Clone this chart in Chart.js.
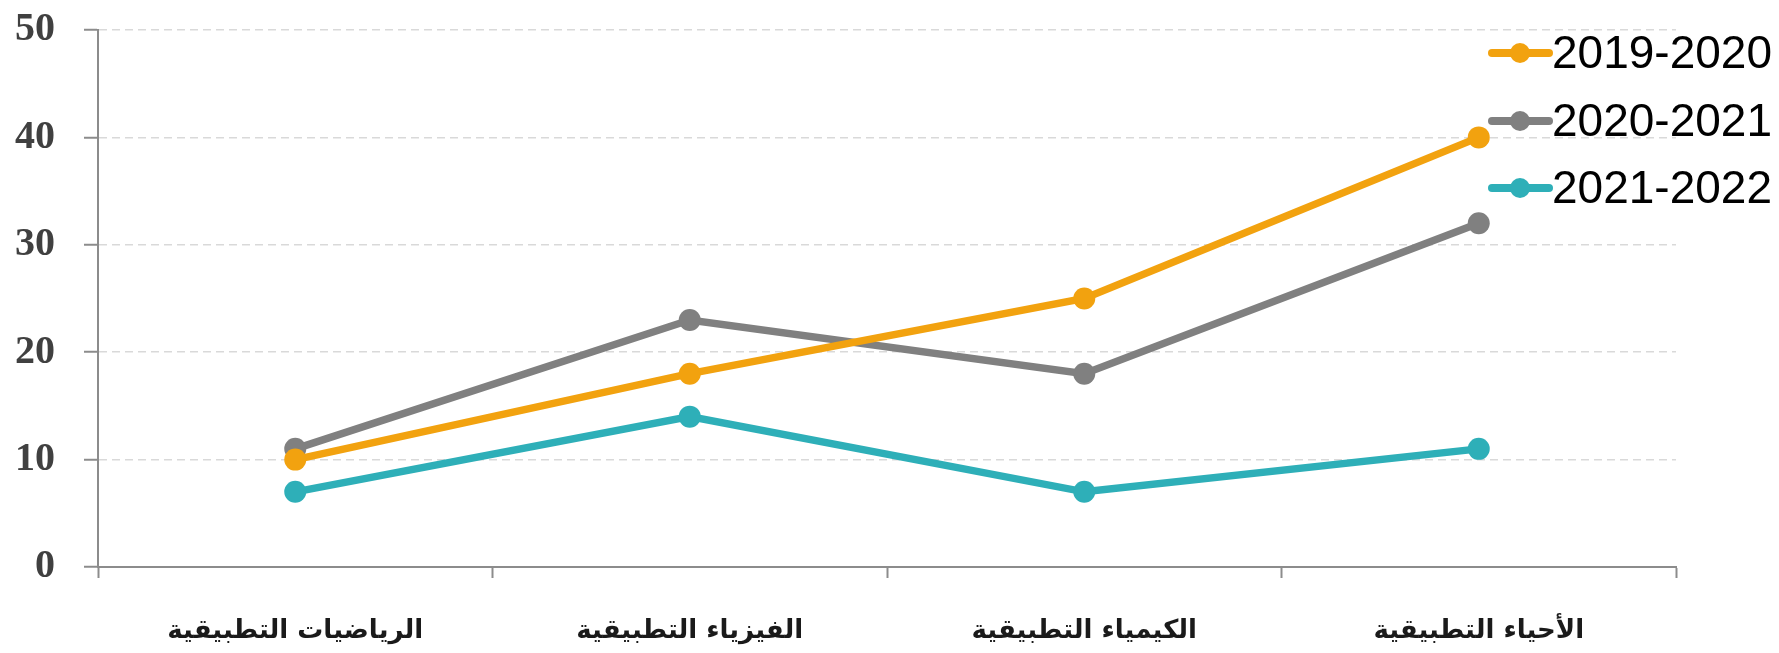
<!DOCTYPE html>
<html>
<head>
<meta charset="utf-8">
<script src="https://cdn.jsdelivr.net/npm/chart.js@4"></script>
<style>
  body { margin: 0; background: #fff; }
  canvas { display: block; }
</style>
</head>
<body>
<canvas id="myChart" width="1779" height="653"></canvas>
<script>
const categories = ["الرياضيات التطبيقية", "الفيزياء التطبيقية", "الكيمياء التطبيقية", "الأحياء التطبيقية"];
const seriesNames = ["2019-2020", "2020-2021", "2021-2022"];
const values2019 = [10, 18, 25, 40];
const values2020 = [11, 23, 18, 32];
const values2021 = [7, 14, 7, 11];
const yTicks = [0, 10, 20, 30, 40, 50];

const colors = ['#F2A20F', '#808080', '#2EAFB8'];

// legend drawn top right, over the plot like the original
const sideLegend = {
    id: 'sideLegend',
    afterDraw(chart) {
        const ctx = chart.ctx;
        const x0 = chart.width - 287;
        const rows = [53, 121, 188];
        ctx.save();
        chart.data.datasets.forEach((ds, i) => {
            const y = rows[i];
            ctx.strokeStyle = ds.borderColor;
            ctx.lineWidth = 8;
            ctx.lineCap = 'round';
            ctx.beginPath();
            ctx.moveTo(x0, y);
            ctx.lineTo(x0 + 57, y);
            ctx.stroke();
            ctx.fillStyle = ds.borderColor;
            ctx.beginPath();
            ctx.arc(x0 + 28, y, 10, 0, Math.PI * 2);
            ctx.fill();
            ctx.fillStyle = '#000';
            ctx.font = '46px "Liberation Sans", Arial, sans-serif';
            ctx.textBaseline = 'middle';
            ctx.textAlign = 'left';
            ctx.fillText(ds.label, x0 + 60, y + 2);
        });
        ctx.restore();
    }
};

const allValues = [values2019, values2020, values2021];

new Chart(document.getElementById('myChart'), {
    type: 'line',
    data: {
        labels: categories,
        datasets: allValues.map((vals, i) => ({
            label: seriesNames[i],
            data: vals,
            borderColor: colors[i],
            backgroundColor: colors[i],
            borderWidth: 7.5,
            pointRadius: 11,
            pointBorderWidth: 0,
            pointBackgroundColor: colors[i],
            tension: 0,
            fill: false
        }))
    },
    options: {
        responsive: false,
        animation: false,
        devicePixelRatio: 1,
        layout: {
            padding: { left: 0, right: 103, top: 30, bottom: 0 }
        },
        plugins: {
            legend: { display: false },
            tooltip: { enabled: false }
        },
        scales: {
            x: {
                offset: true,
                afterFit: s => { s.height = 86; s.paddingLeft = 0; s.paddingRight = 0; },
                grid: {
                    offset: true,
                    drawOnChartArea: false,
                    drawTicks: true,
                    tickLength: 11,
                    tickColor: '#8c8c8c',
                    tickWidth: 2
                },
                border: { display: true, color: '#8c8c8c', width: 2 },
                ticks: {
                    color: '#1a1a1a',
                    padding: 38,
                    maxRotation: 0,
                    font: { family: '"DejaVu Sans", sans-serif', size: 26, weight: 'bold' }
                }
            },
            y: {
                min: yTicks[0],
                max: yTicks[yTicks.length - 1],
                afterFit: s => { s.width = 98; s.paddingTop = 0; s.paddingBottom = 0; },
                afterBuildTicks: s => { s.ticks = yTicks.map(v => ({ value: v })); },
                grid: {
                    color: '#d9d9d9',
                    lineWidth: 1.5,
                    tickLength: 14,
                    tickColor: '#8c8c8c',
                    tickWidth: 2
                },
                border: { display: true, color: '#8c8c8c', width: 2, dash: [8, 5] },
                ticks: {
                    color: '#404040',
                    padding: 29,
                    font: { family: '"Liberation Serif", "Times New Roman", serif', size: 40, weight: 'bold' }
                }
            }
        }
    },
    plugins: [sideLegend]
});
</script>
</body>
</html>
